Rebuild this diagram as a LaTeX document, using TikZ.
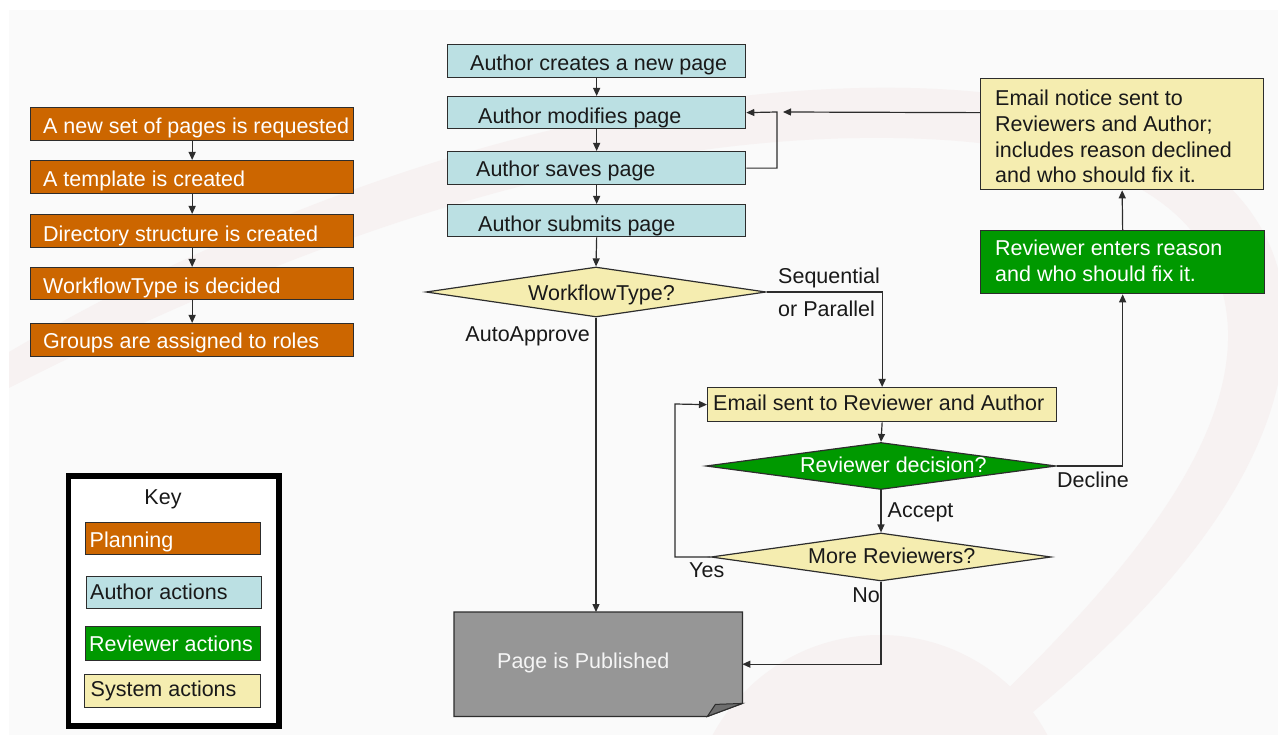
\documentclass[tikz,border=0pt]{standalone}
\usepackage{fontspec}
\setmainfont{Liberation Sans}
\usetikzlibrary{arrows.meta,shapes.geometric,calc}
\definecolor{orng}{RGB}{204,102,0}
\definecolor{lblue}{RGB}{187,224,227}
\definecolor{grn}{RGB}{0,153,0}
\definecolor{yel}{RGB}{245,237,176}
\definecolor{pubgray}{RGB}{150,150,150}
\definecolor{foldgray}{RGB}{110,110,110}
\definecolor{linec}{RGB}{45,45,45}
\definecolor{darktxt}{RGB}{25,25,25}
\definecolor{bgc}{RGB}{250,250,250}
\definecolor{wm}{RGB}{247,242,242}
\begin{document}
\begin{tikzpicture}[x=1pt,y=-1pt,
  box/.style={draw=linec,line width=1.3pt,inner sep=0pt,anchor=north west},
  txt/.style={inner sep=0pt,font=\fontsize{21.5pt}{26pt}\selectfont,anchor=base west,text=darktxt},
  wtxt/.style={txt,text=white},
  arr/.style={draw=linec,line width=1.2pt,-{Triangle[length=8pt,width=7pt]}},
  dia/.style={shape=diamond,draw=linec,line width=1.2pt,inner sep=0pt}]
\useasboundingbox (0,0) rectangle (1278,735);
\fill[white] (0,0) rectangle (1278,735);
\fill[bgc] (9,10) rectangle (1278,735);
% watermark
\begin{scope}
\clip (9,10) rectangle (1278,735);
\fill[wm] (9,352) .. controls (250,210) and (560,95) .. (860,88)
  .. controls (1130,82) and (1290,170) .. (1285,330)
  .. controls (1280,500) and (1110,650) .. (1005,735) -- (960,735)
  .. controls (1080,620) and (1232,470) .. (1228,330)
  .. controls (1222,190) and (1080,135) .. (860,138)
  .. controls (560,142) and (260,260) .. (9,388) -- cycle;
\fill[wm] (880,825) circle (190);
\end{scope}

% planning column
\node[box,fill=orng,minimum width=323pt,minimum height=33pt] (o1) at (30,107) {};
\node[box,fill=orng,minimum width=323pt,minimum height=33pt] (o2) at (30,160) {};
\node[box,fill=orng,minimum width=323pt,minimum height=33pt] (o3) at (30,214) {};
\node[box,fill=orng,minimum width=323pt,minimum height=32pt] (o4) at (30,267) {};
\node[box,fill=orng,minimum width=323pt,minimum height=33pt] (o5) at (30,323) {};
\node[wtxt] (o1t) at (43,133.5) {A new set of pages is requested};
\node[wtxt] (o2t) at (43,187) {A template is created};
\node[wtxt] (o3t) at (43,241.5) {Directory structure is created};
\node[wtxt] (o4t) at (43,293.7) {WorkflowType is decided};
\node[wtxt] (o5t) at (43,349) {Groups are assigned to roles};
\draw[arr] (o1.south) -- (o2.north);
\draw[arr] (o2.south) -- (o3.north);
\draw[arr] (o3.south) -- (o4.north);
\draw[arr] (o4.south) -- (o5.north);

% author column
\node[box,fill=lblue,minimum width=298pt,minimum height=33pt] (b1) at (447,44) {};
\node[box,fill=lblue,minimum width=298pt,minimum height=32pt] (b2) at (447,96) {};
\node[box,fill=lblue,minimum width=298pt,minimum height=33pt] (b3) at (447,151) {};
\node[box,fill=lblue,minimum width=298pt,minimum height=32pt] (b4) at (447,204) {};
\node[txt] (b1t) at (470,70.5) {Author creates a new page};
\node[txt] (b2t) at (478,123.5) {Author modifies page};
\node[txt] (b3t) at (476,177) {Author saves page};
\node[txt] (b4t) at (478,231.5) {Author submits page};
\draw[arr] (b1.south) -- (b2.north);
\draw[arr] (b2.south) -- (b3.north);
\draw[arr] (b3.south) -- (b4.north);

% workflow decision
\node[dia,fill=yel,minimum width=340pt,minimum height=50pt] (wf) at (596,292) {};
\node[txt] (wft) at (528,300.5) {WorkflowType?};
\draw[arr] (b4.south) -- (wf.north);

% published
\node[inner sep=0pt,minimum width=288pt,minimum height=104pt,anchor=north west] (pub) at (454,612) {};
\draw[linec,line width=1.3pt,fill=pubgray] (pub.north west) -- (pub.north east)
  -- ([yshift=13pt]pub.south east) -- ([xshift=-35pt]pub.south east)
  -- (pub.south west) -- cycle;
\draw[linec,line width=1pt,fill=foldgray] ([yshift=13pt]pub.south east)
  -- ([xshift=-35pt]pub.south east) -- ([xshift=-27pt,yshift=12pt]pub.south east) -- cycle;
\node[wtxt,text=white!96!black] (pubt) at (497,668.7) {Page is Published};
\draw[arr] (wf.south) -- (wf.south |- pub.north);
\node[txt,anchor=base east] (aa) at (590,342) {AutoApprove};

% review loop
\node[box,fill=yel,minimum width=349pt,minimum height=34pt] (es) at (707,387) {};
\node[txt] (est) at (713,410.5) {Email sent to Reviewer and Author};
\draw[arr] (wf.east) -| (es.north);
\node[txt] (seq) at (778,283.7) {Sequential};
\node[txt] (par) at (778,317) {or Parallel};

\node[dia,fill=grn,minimum width=350pt,minimum height=47pt] (rd) at (881,466) {};
\node[wtxt] (rdt) at (800,472.7) {Reviewer decision?};
\draw[arr] (es.south) -- (rd.north);

\node[dia,fill=yel,minimum width=340pt,minimum height=48pt] (mr) at (881,557) {};
\node[txt] (mrt) at (808,563) {More Reviewers?};
\draw[arr] (rd.south) -- (mr.north);
\node[txt] (acc) at (887.5,517) {Accept};

\coordinate (yl) at (675,404);
\draw[arr] (mr.west) -| (yl) -- (es.west);
\node[txt] (yes) at (689,577) {Yes};
\draw[arr] (mr.south) |- (pub.east);
\node[txt,anchor=base east] (no) at (880,602) {No};

% reviewer / notice
\node[box,fill=grn,minimum width=284pt,minimum height=63pt] (gr) at (980,230) {};
\node[wtxt] (gr1) at (995,255.4) {Reviewer enters reason};
\node[wtxt] (gr2) at (995,282) {and who should fix it.};
\draw[arr] (rd.east) -| (gr.south);
\node[txt] (dec) at (1057,487) {Decline};

\node[box,fill=yel,minimum width=283pt,minimum height=111pt] (en) at (980,78) {};
\node[txt] (en1) at (995,105.4) {Email notice sent to};
\node[txt] (en2) at (995,131.3) {Reviewers and Author;};
\node[txt] (en3) at (995,157.2) {includes reason declined};
\node[txt] (en4) at (995,183) {and who should fix it.};
\draw[arr] (gr.north) -- (en.south);

\coordinate (loopx) at (777,112);
\draw[arr] (en.west |- b2.east) -- ([xshift=6pt]loopx);
\draw[arr] (b3.east) -| (loopx) -- (b2.east);

% key
\node[draw=black,line width=5.5pt,fill=white,inner sep=0pt,minimum width=210.5pt,minimum height=250pt,anchor=north west] (key) at (65.5,473) {};
\node[txt,anchor=base] (keyt) at (163,504.7) {Key};
\node[box,fill=orng,minimum width=175pt,minimum height=32pt] (kp) at (85,522) {};
\node[box,fill=lblue,minimum width=175pt,minimum height=32pt] (ka) at (86,576) {};
\node[box,fill=grn,minimum width=175pt,minimum height=34pt] (kr) at (85,626) {};
\node[box,fill=yel,minimum width=176pt,minimum height=33pt] (ks) at (84,674) {};
\node[wtxt] (kpt) at (89.5,547.7) {Planning};
\node[txt] (kat) at (90,599.4) {Author actions};
\node[wtxt] (krt) at (89,651.4) {Reviewer actions};
\node[txt] (kst) at (90.5,696) {System actions};
\end{tikzpicture}
\end{document}
